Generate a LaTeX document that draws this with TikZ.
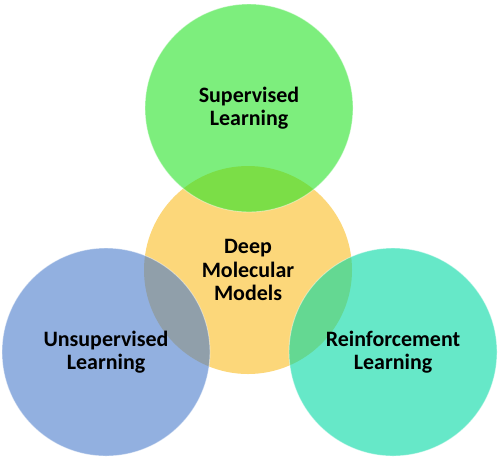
\documentclass[tikz,border=0pt]{standalone}
\usepackage{fontspec}
\setmainfont{Carlito}
\definecolor{hubfill}{HTML}{FCD77A}
\definecolor{supfill}{HTML}{26E326}
\definecolor{unsupfill}{HTML}{497BCB}
\definecolor{reinffill}{HTML}{00D9A3}

\begin{document}
\begin{tikzpicture}[
  bubble/.style={circle,minimum size=4.16cm,inner sep=0pt,align=center,
    font=\fontsize{12.5}{13.4}\selectfont\bfseries,text=black},
  glass/.style={bubble,fill=#1,fill opacity=0.6,text opacity=1,
    draw=white,draw opacity=0.45,line width=0.5pt}]
\useasboundingbox (0,0) rectangle (10,-9.2);
\node[bubble,fill=hubfill] (hub) at (4.96,-5.40) {Deep\\Molecular\\Models};
\node[glass=supfill] (sup) at (4.98,-2.16) {Supervised\\Learning};
\node[glass=unsupfill] (unsup) at (2.12,-7.04) {Unsupervised\\Learning};
\node[glass=reinffill] (reinf) at (7.86,-7.04) {Reinforcement\\Learning};
\end{tikzpicture}
\end{document}
